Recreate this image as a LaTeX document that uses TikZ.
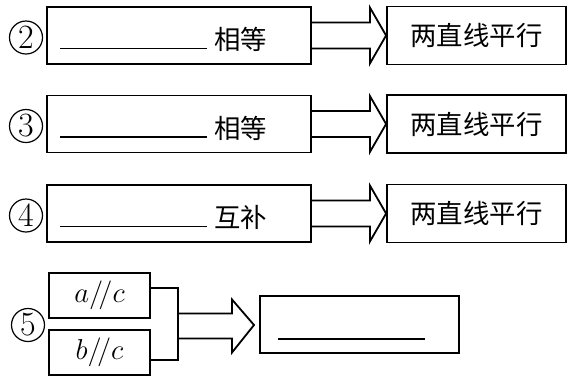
\documentclass[tikz,border=0pt]{standalone}
\usepackage{fontspec}
\newfontfamily\cjk{Noto Sans CJK SC}
\usetikzlibrary{positioning,calc}

\tikzset{
  numcirc/.style={circle, draw, line width=0.6pt, minimum size=16.5pt, inner sep=0pt, font=\fontsize{17}{17}\selectfont},
  leftbox/.style={draw, line width=0.9pt, minimum width=132pt, minimum height=28.5pt, inner sep=0pt},
  rightbox/.style={draw, line width=0.9pt, minimum width=89.5pt, minimum height=29pt, inner sep=0pt, font=\cjk\fontsize{13.2}{13.2}\selectfont},
  cjktext/.style={inner sep=0pt, font=\cjk\fontsize{13.2}{13.2}\selectfont},
  smallbox/.style={draw, line width=0.9pt, minimum width=50.5pt, minimum height=22.5pt, inner sep=0pt, font=\fontsize{15}{15}\selectfont},
  fatarrow/.style={line width=0.9pt, line join=miter},
  blank/.style={line width=0.8pt},
}

\begin{document}
\begin{tikzpicture}[x=0.5pt, y=-0.5pt]
    \useasboundingbox (0,0) rectangle (574,377);

    % row 2
    \begin{scope}[shift={(0,35.5)}]
      \node[numcirc] (n2) at (26,2) {2};
      \node[leftbox] (l2) at (179,0) {};
      \draw[blank] (60,13) -- (207,13);
      \node[cjktext, anchor=west] (t2) at (214,4) {相等};
      \node[rightbox] (r2) at (476.5,0) {两直线平行};
      \draw[fatarrow] ($(l2.east)+(0,-13)$) -- ++(58,0) -- ++(0,-15) -- (r2.west)
        -- ($(l2.east)+(58,28)$) -- ++(0,-15) -- ($(l2.east)+(0,13)$);
    \end{scope}

    % row 3
    \begin{scope}[shift={(0,124)}]
      \node[numcirc] (n3) at (26,2) {3};
      \node[leftbox] (l3) at (179,0) {};
      \draw[blank] (60,13) -- (207,13);
      \node[cjktext, anchor=west] (t3) at (214,4) {相等};
      \node[rightbox] (r3) at (476.5,0) {两直线平行};
      \draw[fatarrow] ($(l3.east)+(0,-13)$) -- ++(58,0) -- ++(0,-15) -- (r3.west)
        -- ($(l3.east)+(58,28)$) -- ++(0,-15) -- ($(l3.east)+(0,13)$);
    \end{scope}

    % row 4
    \begin{scope}[shift={(0,213.5)}]
      \node[numcirc] (n4) at (26,2) {4};
      \node[leftbox] (l4) at (179,0) {};
      \draw[blank] (60,13) -- (207,13);
      \node[cjktext, anchor=west] (t4) at (214,4) {互补};
      \node[rightbox] (r4) at (476.5,0) {两直线平行};
      \draw[fatarrow] ($(l4.east)+(0,-13)$) -- ++(58,0) -- ++(0,-15) -- (r4.west)
        -- ($(l4.east)+(58,28)$) -- ++(0,-15) -- ($(l4.east)+(0,13)$);
    \end{scope}

    % row 5
    \node[numcirc] (n5) at (28,325) {5};
    \node[smallbox] (a5) at (99.5,295.5) {$a/\!/c$};
    \node[smallbox] (b5) at (99.5,352.5) {$b/\!/c$};
    \draw[fatarrow] ($(a5.east)+(0,-7.5)$) -- ++(27,0) |- ($(b5.east)+(0,7.5)$);
    \coordinate (br5) at (177,326);
    \coordinate (tip5) at (254,325);
    \node[draw, line width=0.9pt, minimum width=99.5pt, minimum height=28.5pt] (res5) at (359.5,324.5) {};
    \draw[blank] (278,339) -- (425,339);
    \draw[fatarrow] ($(br5)+(0,-12.5)$) -- ++(55,0) -- ++(0,-14) -- (tip5)
      -- ($(br5)+(55,26.5)$) -- ++(0,-14) -- ($(br5)+(0,12.5)$);
\end{tikzpicture}
\end{document}
